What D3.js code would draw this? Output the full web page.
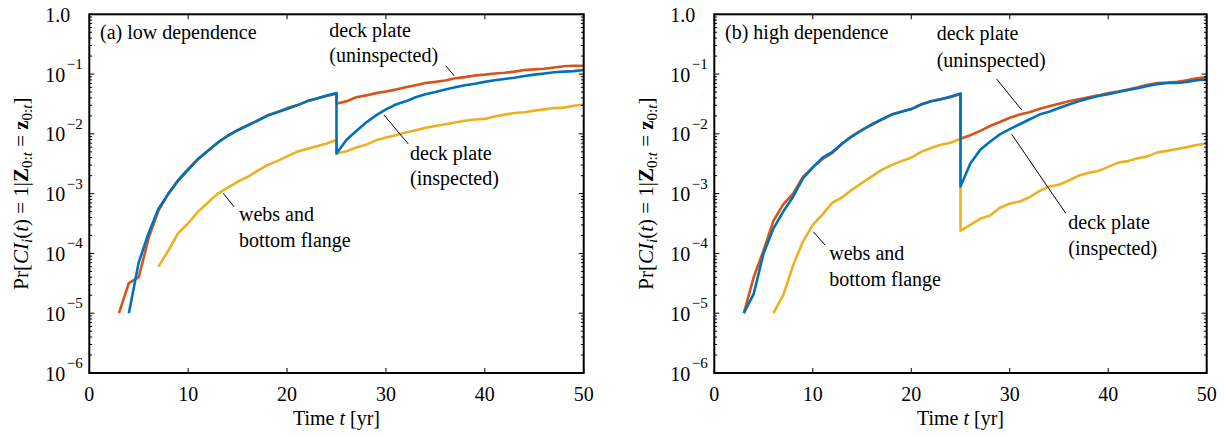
<!DOCTYPE html>
<html>
<head>
<meta charset="utf-8">
<script src="https://cdn.jsdelivr.net/npm/d3@7"></script>
<style>
  body { margin: 0; background: #fff; }
  text { font-family: "Liberation Serif", "Times New Roman", serif; fill: #000; }
</style>
</head>
<body>
<svg id="chart" width="1225" height="437"></svg>
<script>
// ---- axis definitions ----
const xTickValues = [0, 10, 20, 30, 40, 50];
const yTickExponents = [-6, -5, -4, -3, -2, -1, 0];
const inspectionYear = 25;

// ---- (a) low dependence: probabilities before (start..25) and after (25..50) the inspection ----
const lowUninspStart = 3;
const lowUninspPre = [1.0e-5, 3.2e-5, 4.0e-5, 1.8e-4, 5.2e-4, 1.0e-3, 1.7e-3, 2.6e-3, 3.8e-3, 5.2e-3, 7.1e-3, 9.3e-3, 1.15e-2, 1.38e-2, 1.66e-2, 2.04e-2, 2.3e-2, 2.7e-2, 3.0e-2, 3.5e-2, 3.9e-2, 4.3e-2, 4.7e-2];
const lowUninspPost = [3.2e-2, 3.5e-2, 4.1e-2, 4.4e-2, 4.8e-2, 5.1e-2, 5.5e-2, 6.0e-2, 6.5e-2, 7.1e-2, 7.4e-2, 7.8e-2, 8.5e-2, 8.9e-2, 9.5e-2, 9.8e-2, 0.102, 0.105, 0.110, 0.117, 0.120, 0.123, 0.129, 0.135, 0.138, 0.138];

const lowInspStart = 4;
const lowInspPre = [1.0e-5, 7.1e-5, 2.2e-4, 5.6e-4, 1.0e-3, 1.66e-3, 2.5e-3, 3.8e-3, 5.2e-3, 7.2e-3, 9.3e-3, 1.15e-2, 1.38e-2, 1.66e-2, 2.0e-2, 2.3e-2, 2.6e-2, 3.0e-2, 3.5e-2, 3.9e-2, 4.4e-2, 4.8e-2];
const lowInspPost = [4.7e-3, 7.9e-3, 1.12e-2, 1.55e-2, 2.04e-2, 2.57e-2, 3.1e-2, 3.5e-2, 4.1e-2, 4.6e-2, 5.0e-2, 5.5e-2, 6.0e-2, 6.5e-2, 6.9e-2, 7.4e-2, 7.9e-2, 8.3e-2, 8.7e-2, 9.3e-2, 9.8e-2, 0.102, 0.107, 0.110, 0.112, 0.117];

const lowWebsStart = 7;
const lowWebsPre = [6.0e-5, 1.12e-4, 2.2e-4, 3.2e-4, 5.0e-4, 7.1e-4, 1.0e-3, 1.26e-3, 1.58e-3, 1.9e-3, 2.4e-3, 3.0e-3, 3.5e-3, 4.2e-3, 5.0e-3, 5.6e-3, 6.2e-3, 6.9e-3, 7.9e-3];
const lowWebsPost = [4.7e-3, 5.1e-3, 5.9e-3, 6.6e-3, 7.8e-3, 8.7e-3, 9.5e-3, 1.05e-2, 1.15e-2, 1.26e-2, 1.35e-2, 1.45e-2, 1.55e-2, 1.66e-2, 1.74e-2, 1.78e-2, 1.95e-2, 2.1e-2, 2.24e-2, 2.3e-2, 2.45e-2, 2.57e-2, 2.7e-2, 2.75e-2, 2.95e-2, 3.1e-2];

// ---- (b) high dependence ----
const highUninspStart = 3;
const highUninspPre = [1.0e-5, 4.0e-5, 1.12e-4, 3.5e-4, 6.6e-4, 1.0e-3, 1.9e-3, 2.75e-3, 3.8e-3, 4.8e-3, 6.9e-3, 9.3e-3, 1.17e-2, 1.41e-2, 1.74e-2, 2.1e-2, 2.34e-2, 2.6e-2, 3.1e-2, 3.5e-2, 3.8e-2, 4.1e-2, 4.7e-2];
const highUninspPost = [8.3e-3, 9.5e-3, 1.12e-2, 1.35e-2, 1.58e-2, 1.86e-2, 2.1e-2, 2.3e-2, 2.6e-2, 2.9e-2, 3.2e-2, 3.5e-2, 3.8e-2, 4.1e-2, 4.4e-2, 4.8e-2, 5.1e-2, 5.5e-2, 6.0e-2, 6.6e-2, 7.1e-2, 7.2e-2, 7.4e-2, 7.9e-2, 8.5e-2, 8.9e-2];

const highInspStart = 3;
const highInspPre = [1.0e-5, 2.1e-5, 1.0e-4, 2.6e-4, 5.0e-4, 8.9e-4, 1.8e-3, 2.75e-3, 4.0e-3, 5.0e-3, 6.9e-3, 9.1e-3, 1.15e-2, 1.45e-2, 1.74e-2, 2.1e-2, 2.34e-2, 2.6e-2, 3.1e-2, 3.5e-2, 3.8e-2, 4.2e-2, 4.7e-2];
const highInspPost = [1.32e-3, 3.2e-3, 5.4e-3, 7.4e-3, 9.8e-3, 1.2e-2, 1.45e-2, 1.74e-2, 2.1e-2, 2.34e-2, 2.7e-2, 3.1e-2, 3.5e-2, 3.9e-2, 4.3e-2, 4.6e-2, 5.0e-2, 5.4e-2, 5.8e-2, 6.3e-2, 6.8e-2, 7.1e-2, 7.1e-2, 7.4e-2, 7.9e-2, 8.1e-2];

const highWebsStart = 6;
const highWebsPre = [1.0e-5, 2.0e-5, 6.3e-5, 1.58e-4, 3.0e-4, 4.5e-4, 7.1e-4, 8.7e-4, 1.17e-3, 1.51e-3, 1.95e-3, 2.5e-3, 3.0e-3, 3.5e-3, 4.0e-3, 5.0e-3, 5.8e-3, 6.6e-3, 7.1e-3, 8.3e-3];
const highWebsPost = [2.4e-4, 3.0e-4, 3.8e-4, 4.3e-4, 5.8e-4, 6.8e-4, 7.4e-4, 8.7e-4, 1.1e-3, 1.32e-3, 1.41e-3, 1.66e-3, 2.0e-3, 2.24e-3, 2.4e-3, 2.8e-3, 3.3e-3, 3.5e-3, 3.9e-3, 4.2e-3, 4.9e-3, 5.2e-3, 5.6e-3, 6.0e-3, 6.5e-3, 6.9e-3];

// ---- styling ----
const colorUninsp = "#D95319";
const colorInsp = "#0072BD";
const colorWebs = "#EDB120";

const svg = d3.select("#chart");
const plotTop = 14.3, plotBottom = 373;

function seriesPoints(start, pre, post) {
  const a = pre.map((v, i) => [start + i, v]);
  const b = post.map((v, i) => [inspectionYear + i, v]);
  return a.concat(b);
}

const panels = [
  {
    left: 89.3, right: 583.7, title: "(a) low dependence",
    series: [
      { pts: seriesPoints(lowUninspStart, lowUninspPre, lowUninspPost), color: colorUninsp },
      { pts: seriesPoints(lowWebsStart, lowWebsPre, lowWebsPost), color: colorWebs },
      { pts: seriesPoints(lowInspStart, lowInspPre, lowInspPost), color: colorInsp }
    ],
    notes: [
      { lines: ["deck plate", "(uninspected)"], dx: 240, dy: [22.7, 47.7], leader: [356.4, 51.4, 365, 61.7] },
      { lines: ["deck plate", "(inspected)"], dx: 320.7, dy: [145.7, 170.7], leader: [294.7, 100.7, 319, 129.7] },
      { lines: ["webs and", "bottom flange"], dx: 149.7, dy: [206.7, 232.7], leader: [134, 179, 144.7, 192.4] }
    ]
  },
  {
    left: 714.3, right: 1206.7, title: "(b) high dependence",
    series: [
      { pts: seriesPoints(highUninspStart, highUninspPre, highUninspPost), color: colorUninsp },
      { pts: seriesPoints(highWebsStart, highWebsPre, highWebsPost), color: colorWebs },
      { pts: seriesPoints(highInspStart, highInspPre, highInspPost), color: colorInsp }
    ],
    notes: [
      { lines: ["deck plate", "(uninspected)"], dx: 222.4, dy: [25.7, 52.7], leader: [282.4, 64.7, 307.4, 95.7] },
      { lines: ["deck plate", "(inspected)"], dx: 354, dy: [214.7, 240.7], leader: [297.4, 120, 351.4, 199] },
      { lines: ["webs and", "bottom flange"], dx: 115, dy: [245.7, 271.7], leader: [99, 217.4, 110.7, 230.7] }
    ]
  }
];

panels.forEach(p => {
  const x = d3.scaleLinear().domain([0, 50]).range([p.left, p.right]);
  const y = d3.scaleLog().domain([1e-6, 1]).range([plotBottom, plotTop]);
  const g = svg.append("g");

  // clip the curves to the plotting frame
  const clipId = "clip" + Math.round(p.left);
  svg.append("clipPath").attr("id", clipId).append("rect")
    .attr("x", p.left).attr("y", plotTop).attr("width", p.right - p.left).attr("height", plotBottom - plotTop);

  // curves
  const line = d3.line().x(d => x(d[0])).y(d => y(d[1]));
  g.append("g").attr("clip-path", `url(#${clipId})`)
    .selectAll("path").data(p.series).join("path")
    .attr("d", s => line(s.pts))
    .attr("fill", "none")
    .attr("stroke", s => s.color)
    .attr("stroke-width", 2.6)
    .attr("stroke-linejoin", "round");

  // ticks (inward on all four sides)
  const tickG = g.append("g").attr("stroke", "#000").attr("stroke-width", 1);
  xTickValues.forEach(t => {
    tickG.append("line").attr("x1", x(t)).attr("x2", x(t)).attr("y1", plotBottom).attr("y2", plotBottom - 5);
    tickG.append("line").attr("x1", x(t)).attr("x2", x(t)).attr("y1", plotTop).attr("y2", plotTop + 5);
  });
  const majorY = yTickExponents.map(e => Math.pow(10, e));
  const minorY = [];
  majorY.slice(0, -1).forEach(m => { for (let k = 2; k <= 9; k++) minorY.push(m * k); });
  majorY.forEach(v => {
    tickG.append("line").attr("x1", p.left).attr("x2", p.left + 5).attr("y1", y(v)).attr("y2", y(v));
    tickG.append("line").attr("x1", p.right).attr("x2", p.right - 5).attr("y1", y(v)).attr("y2", y(v));
  });
  minorY.forEach(v => {
    tickG.append("line").attr("x1", p.left).attr("x2", p.left + 2.8).attr("y1", y(v)).attr("y2", y(v));
    tickG.append("line").attr("x1", p.right).attr("x2", p.right - 2.8).attr("y1", y(v)).attr("y2", y(v));
  });

  // frame
  g.append("rect")
    .attr("x", p.left).attr("y", plotTop)
    .attr("width", p.right - p.left).attr("height", plotBottom - plotTop)
    .attr("fill", "none").attr("stroke", "#000").attr("stroke-width", 2);

  // x tick labels
  g.append("g").selectAll("text").data(xTickValues).join("text")
    .attr("x", d => x(d)).attr("y", 401)
    .attr("text-anchor", "middle").attr("font-size", 20)
    .text(d => d);

  // y tick labels (left-aligned column)
  const labX = p.left - 44;
  yTickExponents.forEach(e => {
    const yy = y(Math.pow(10, e));
    if (e === 0) {
      g.append("text").attr("x", labX).attr("y", yy + 7.5).attr("font-size", 20).text("1.0");
    } else {
      g.append("text").attr("x", labX).attr("y", yy + 7.5).attr("font-size", 20).text("10");
      g.append("text").attr("x", labX + 21.5).attr("y", yy - 5).attr("font-size", 15).text("\u2212" + Math.abs(e));
    }
  });

  // axis titles
  const xl = g.append("text").attr("x", (p.left + p.right) / 2).attr("y", 425)
    .attr("text-anchor", "middle").attr("font-size", 20);
  xl.append("tspan").text("Time ");
  xl.append("tspan").attr("font-style", "italic").text("t");
  xl.append("tspan").text(" [yr]");

  const yl = g.append("text")
    .attr("transform", `translate(${p.left - 61},${(plotTop + plotBottom) / 2}) rotate(-90)`)
    .attr("text-anchor", "middle").attr("font-size", 21);
  yl.append("tspan").text("Pr[");
  yl.append("tspan").attr("font-style", "italic").text("CI");
  yl.append("tspan").attr("font-style", "italic").attr("font-size", 15).attr("dy", 4).text("i");
  yl.append("tspan").attr("dy", -4).text("(");
  yl.append("tspan").attr("font-style", "italic").text("t");
  yl.append("tspan").text(") = 1|");
  yl.append("tspan").attr("font-weight", "bold").text("Z");
  yl.append("tspan").attr("font-size", 15).attr("dy", 4).text("0:");
  yl.append("tspan").attr("font-size", 15).attr("font-style", "italic").text("t");
  yl.append("tspan").attr("dy", -4).text(" = ");
  yl.append("tspan").attr("font-weight", "bold").text("z");
  yl.append("tspan").attr("font-size", 15).attr("dy", 4).text("0:");
  yl.append("tspan").attr("font-size", 15).attr("font-style", "italic").text("t");
  yl.append("tspan").attr("dy", -4).text("]");

  // panel title
  g.append("text").attr("x", p.left + 10.7).attr("y", plotTop + 24.7).attr("font-size", 20).text(p.title);

  // annotations with leader lines
  p.notes.forEach(n => {
    n.lines.forEach((s, i) => {
      g.append("text").attr("x", p.left + n.dx).attr("y", plotTop + n.dy[i]).attr("font-size", 20).text(s);
    });
    g.append("line")
      .attr("x1", p.left + n.leader[0]).attr("y1", plotTop + n.leader[1])
      .attr("x2", p.left + n.leader[2]).attr("y2", plotTop + n.leader[3])
      .attr("stroke", "#000").attr("stroke-width", 1);
  });
});
</script>
</body>
</html>
